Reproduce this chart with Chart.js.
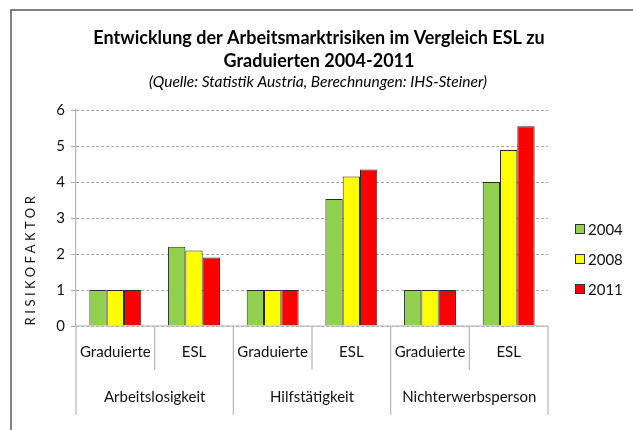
<!DOCTYPE html>
<html>
<head>
<meta charset="utf-8">
<script src="https://cdn.jsdelivr.net/npm/chart.js@4/dist/chart.umd.min.js"></script>
<style>
  html, body { margin: 0; padding: 0; background: #fff; }
  #wrap { width: 633px; height: 430px; }
</style>
</head>
<body>
<div id="wrap"><canvas id="chart" width="633" height="430"></canvas></div>
<script>
const subLabels = ['Graduierte', 'ESL', 'Graduierte', 'ESL', 'Graduierte', 'ESL'];
const groupLabels = ['Arbeitslosigkeit', 'Hilfstätigkeit', 'Nichterwerbsperson'];
const years = ['2004', '2008', '2011'];
const values2004 = [1, 2.2, 1, 3.53, 1, 4.0];
const values2008 = [1, 2.1, 1, 4.15, 1, 4.89];
const values2011 = [1, 1.9, 1, 4.35, 1, 5.55];
const yTicks = [0, 1, 2, 3, 4, 5, 6];

const colors = ['#92d050', '#ffff00', '#ff0000'];
const FONT = 'Lato, "Open Sans", sans-serif';

// Title, frame, multi-level x axis, y title and legend
const decor = {
  id: 'decor',
  afterDraw(chart) {
    const ctx = chart.ctx;
    const area = chart.chartArea;
    const x = chart.scales.x;
    const step = x.getPixelForValue(1) - x.getPixelForValue(0);

    ctx.save();
    // outer frame
    ctx.strokeStyle = '#555';
    ctx.lineWidth = 1.5;
    ctx.beginPath();
    ctx.moveTo(11, 430);
    ctx.lineTo(11, 10);
    ctx.lineTo(633, 10);
    ctx.stroke();

    // title
    ctx.fillStyle = '#000';
    ctx.textAlign = 'center';
    ctx.textBaseline = 'middle';
    ctx.font = 'bold 18px ' + FONT;
    ctx.fillText('Entwicklung der Arbeitsmarktrisiken im Vergleich ESL zu', 319, 38);
    ctx.fillText('Graduierten 2004-2011', 319, 61);
    ctx.font = 'italic 15.5px ' + FONT;
    ctx.fillText('(Quelle: Statistik Austria, Berechnungen: IHS-Steiner)', 318, 82);

    // x axis line and separators
    ctx.strokeStyle = '#b5b5b5';
    ctx.lineWidth = 1.2;
    ctx.beginPath();
    ctx.moveTo(area.left, area.bottom);
    ctx.lineTo(area.right, area.bottom);
    for (let i = 0; i <= subLabels.length; i++) {
      const px = x.getPixelForValue(i) - step / 2;
      const outer = i % 2 === 0;
      ctx.moveTo(px, area.bottom);
      ctx.lineTo(px, outer ? 415 : 370);
    }
    ctx.stroke();

    ctx.fillStyle = '#111';
    ctx.font = '15px ' + FONT;
    subLabels.forEach((lab, i) => {
      ctx.fillText(lab, x.getPixelForValue(i), 352);
    });
    groupLabels.forEach((lab, g) => {
      const cx = (x.getPixelForValue(g * 2) + x.getPixelForValue(g * 2 + 1)) / 2;
      ctx.fillText(lab, cx, 397);
    });

    // y axis title
    ctx.save();
    ctx.translate(31, 261);
    ctx.rotate(-Math.PI / 2);
    ctx.font = '13px ' + FONT;
    ctx.letterSpacing = '3.5px';
    ctx.fillText('RISIKOFAKTOR', 2, 0);
    ctx.restore();

    // legend
    ctx.textAlign = 'left';
    ctx.font = '15px ' + FONT;
    chart.data.datasets.forEach((ds, i) => {
      const cy = 229 + i * 30;
      ctx.fillStyle = ds.backgroundColor;
      ctx.fillRect(575, cy - 5, 10, 10);
      ctx.strokeStyle = '#333';
      ctx.lineWidth = 1;
      ctx.strokeRect(575.5, cy - 4.5, 9, 9);
      ctx.fillStyle = '#111';
      ctx.fillText(ds.label, 588, cy + 1);
    });
    ctx.restore();
  }
};

new Chart(document.getElementById('chart'), {
  type: 'bar',
  data: {
    labels: subLabels,
    datasets: [
      { label: years[0], data: values2004, backgroundColor: colors[0] },
      { label: years[1], data: values2008, backgroundColor: colors[1] },
      { label: years[2], data: values2011, backgroundColor: colors[2] }
    ].map(d => Object.assign(d, { borderColor: '#2a2a2a', borderWidth: 1, borderSkipped: 'bottom' }))
  },
  options: {
    responsive: false,
    animation: false,
    layout: { padding: { left: 0, right: 85, top: 110, bottom: 104 } },
    datasets: { bar: { barPercentage: 1, categoryPercentage: 0.66 } },
    plugins: {
      legend: { display: false },
      title: { display: false },
      tooltip: { enabled: false }
    },
    scales: {
      x: { display: false },
      y: {
        min: 0,
        max: 6,
        afterFit(scale) { scale.width = 76; },
        afterBuildTicks(scale) { scale.ticks = yTicks.map(v => ({ value: v })); },
        ticks: { color: '#111', font: { size: 15, family: FONT }, padding: 6 },
        grid: { color: '#a8a8a8', tickLength: 5, lineWidth: 1 },
        border: { color: '#b5b5b5', width: 1.2, dash: [3, 2] }
      }
    }
  },
  plugins: [decor]
});
</script>
</body>
</html>
